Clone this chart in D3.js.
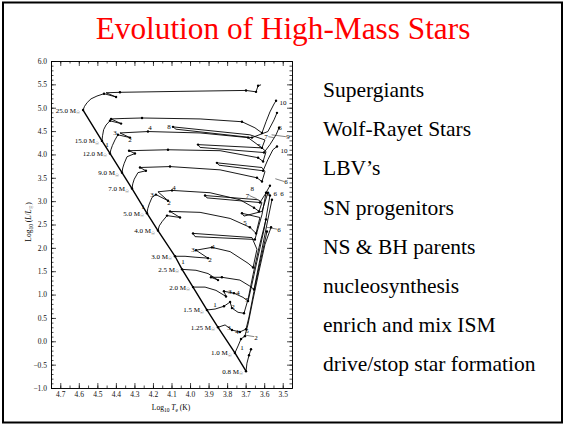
<!DOCTYPE html>
<html>
<head>
<meta charset="utf-8">
<script src="https://cdn.jsdelivr.net/npm/d3@7"></script>
<style>
  body { margin: 0; background: #fff; }
  svg { display: block; }
</style>
</head>
<body>
<svg id="slide" width="565" height="426"></svg>
<script>
// evolutionary tracks, [log Te, log L/Lsun]
const track25 = [[4.577,4.95],[4.569,5.03],[4.555,5.11],[4.534,5.19],[4.502,5.25],[4.464,5.30],[4.399,5.23],[4.453,5.32],[4.378,5.33],[4.054,5.35],[3.698,5.37],[3.644,5.34],[3.633,5.47],[3.617,5.49]];
const track15 = [[4.475,4.29],[4.472,4.40],[4.466,4.53],[4.453,4.63],[4.432,4.72],[4.372,4.66],[4.426,4.76],[4.356,4.77],[4.259,4.78],[3.946,4.76],[3.720,4.70],[3.650,4.57],[3.612,4.46],[3.590,4.70],[3.569,4.91],[3.547,5.08],[3.536,5.15]];
const track12 = [[4.432,4.02],[4.427,4.10],[4.419,4.19],[4.405,4.31],[4.389,4.42],[4.324,4.36],[4.378,4.46],[4.227,4.49],[3.946,4.46],[3.687,4.36],[3.612,4.14],[3.596,4.31],[3.677,4.42],[4.092,4.59],[4.076,4.54],[3.666,4.36],[3.580,4.49],[3.547,4.74],[3.531,4.89]];
const track9 = [[4.367,3.61],[4.363,3.71],[4.355,3.81],[4.340,3.95],[4.297,4.02],[4.329,4.08],[4.119,4.10],[3.838,4.08],[3.633,3.93],[3.606,3.85],[3.590,4.06],[3.612,4.14],[3.957,4.21],[3.946,4.15],[3.601,4.04],[3.569,4.21],[3.536,4.42],[3.520,4.57]];
const track7 = [[4.313,3.27],[4.309,3.37],[4.301,3.47],[4.281,3.61],[4.238,3.65],[4.270,3.72],[4.108,3.74],[3.838,3.67],[3.639,3.50],[3.612,3.42],[3.596,3.63],[3.612,3.72],[3.855,3.82],[3.844,3.77],[3.606,3.65],[3.580,3.89],[3.553,4.10],[3.531,4.17]];
const track5 = [[4.232,2.74],[4.228,2.84],[4.220,2.94],[4.205,3.08],[4.184,3.14],[4.119,3.01],[4.173,3.20],[4.097,3.23],[3.892,3.18],[3.731,3.03],[3.655,2.86],[3.628,2.78],[3.612,2.97],[3.633,3.03],[3.919,3.12],[3.909,3.07],[3.623,2.97],[3.596,3.14],[3.569,3.33]];
const track4 = [[4.173,2.37],[4.166,2.47],[4.151,2.56],[4.124,2.69],[4.054,2.65],[4.108,2.78],[3.946,2.76],[3.784,2.63],[3.677,2.44],[3.644,2.31],[3.623,2.65],[3.720,2.74],[3.709,2.68],[3.612,2.78],[3.580,3.18]];
const track3 = [[4.081,1.82],[4.027,1.82],[3.973,1.80],[3.903,1.78],[3.968,1.95],[3.882,2.01],[3.784,1.92],[3.687,1.67],[3.660,1.58],[3.639,1.97],[3.666,2.22],[3.984,2.31],[3.973,2.24],[3.650,2.18],[3.612,2.71],[3.590,3.18]];
const track2_5 = [[4.043,1.54],[3.968,1.52],[3.903,1.45],[3.849,1.31],[3.887,1.37],[3.828,1.37],[3.731,1.31],[3.677,1.18],[3.655,1.11],[3.639,1.43],[3.612,1.97],[3.580,2.61],[3.558,3.03]];
const track2 = [[3.984,1.16],[3.919,1.16],[3.860,1.09],[3.806,0.96],[3.817,1.07],[3.763,1.03],[3.714,0.94],[3.687,0.86],[3.666,1.22],[3.639,1.71],[3.601,2.39],[3.569,3.12]];
const track1_5 = [[3.909,0.67],[3.865,0.69],[3.817,0.75],[3.784,0.84],[3.774,0.71],[3.741,0.62],[3.709,0.60],[3.687,0.90],[3.660,1.43],[3.628,2.01],[3.590,2.61]];
const track1_25 = [[3.849,0.30],[3.811,0.35],[3.774,0.24],[3.731,0.20],[3.698,0.26],[3.682,0.52],[3.655,1.07],[3.623,1.67],[3.585,2.35]];
const track1 = [[3.758,-0.25],[3.741,-0.10],[3.725,0.05],[3.704,0.11],[3.687,0.37],[3.660,0.90],[3.628,1.50],[3.596,2.07],[3.563,2.44]];
const track0_8 = [[3.698,-0.64],[3.693,-0.47],[3.682,-0.30],[3.671,-0.17]];

const masses = ["25.0","15.0","12.0","9.0","7.0","5.0","4.0","3.0","2.5","2.0","1.5","1.25","1.0","0.8"];
const trackList = [track25, track15, track12, track9, track7, track5, track4, track3, track2_5, track2, track1_5, track1_25, track1, track0_8];
// which points of each track carry a stage dot
const dotIndex = [[0,5,6,8,10,11,12],[0,4,5,6,8,10,12,16],[0,4,5,7,9,10,13,15,18],[0,4,5,6,8,9,12,14,17],[0,4,5,6,8,9,12,14,17],[0,4,5,7,10,11,14,16,18],[0,3,4,5,8,9,11,14],[0,3,4,5,8,11,13,15],[0,3,4,5,8,12],[0,3,4,5,7,11],[0,2,3,4,6,10],[0,2,3,4,8],[0,2,3,8],[0,2,3]];

// stage numbers
const stageLabels = [
  ["1",4.448,4.21],["3",4.405,4.46],["2",4.324,4.31],["4",4.216,4.57],["8",4.114,4.59],
  ["3",4.205,3.14],["4",4.087,3.29],["2",4.114,2.97],["1",4.254,2.88],
  ["3",3.984,1.97],["4",3.876,2.03],["2",3.892,1.75],["1",4.038,1.71],
  ["3",3.784,1.07],["4",3.741,1.05],["1",3.865,0.79],["2",3.768,0.75],["5",3.693,0.90],
  ["3",3.790,0.30],["4",3.747,0.20],["5",3.693,0.22],["1",3.720,-0.13],["2",3.644,0.09],
  ["10",3.499,5.10],["6",3.515,4.57],["7",3.590,4.38],["9",3.472,4.38],["5",3.628,4.19],
  ["10",3.493,4.08],["6",3.482,3.42],["8",3.664,3.26],["7",3.690,3.12],["9",3.580,3.16],
  ["6",3.540,3.17],["6",3.504,3.17],["6",3.520,2.39],["5",3.704,2.54]
];
// leader lines from a stage number to its track, [t1, L1, t2, L2]
const leaders = [
  [3.483,4.38,3.560,4.42],[3.578,4.38,3.548,4.36],[3.492,3.42,3.540,3.48],
  [3.531,2.40,3.585,2.44],[3.655,0.10,3.700,0.13],[3.680,3.12,3.640,3.05]
];

const xTicks = [4.7,4.6,4.5,4.4,4.3,4.2,4.1,4.0,3.9,3.8,3.7,3.6,3.5];
const yTicks = [-1.0,-0.5,0.0,0.5,1.0,1.5,2.0,2.5,3.0,3.5,4.0,4.5,5.0,5.5,6.0];

const bullets = ["Supergiants","Wolf-Rayet Stars","LBV\u2019s","SN progenitors","NS & BH parents","nucleosynthesis","enrich and mix ISM","drive/stop star formation"];

const svg = d3.select("#slide");
const serif = "'Liberation Serif', 'Times New Roman', serif";

svg.append("rect")
    .attr("x", 3).attr("y", 2.5)
    .attr("width", 559).attr("height", 420)
    .attr("fill", "none").attr("stroke", "#000").attr("stroke-width", 2);

svg.append("text")
    .attr("x", 283).attr("y", 39)
    .attr("text-anchor", "middle")
    .attr("font-family", serif)
    .attr("font-size", 31.3)
    .attr("fill", "#ff0000")
    .text("Evolution of High-Mass Stars");

svg.append("g").selectAll("text")
    .data(bullets)
    .join("text")
    .attr("x", 323)
    .attr("y", (d, i) => 97 + i * 39.2)
    .attr("font-family", serif)
    .attr("font-size", 21.5)
    .attr("fill", "#000")
    .text(d => d);

// HR diagram
const x = d3.scaleLinear().domain([4.75, 3.45]).range([51, 292]);
const y = d3.scaleLinear().domain([-1, 6]).range([388, 61]);

const chart = svg.append("g");

const minorX = d3.range(4.75, 3.449, -0.05).map(v => +v.toFixed(2));
const minorY = d3.range(-1, 6.001, 0.1).map(v => +v.toFixed(1));

function styleAxis(g) {
    g.selectAll("path.domain").attr("stroke", "#000").attr("stroke-width", 0.8);
    g.selectAll(".tick line").attr("stroke", "#000").attr("stroke-width", 0.7);
    g.selectAll("text").attr("font-family", serif).attr("font-size", 7.5).attr("fill", "#111");
}

chart.append("g").attr("transform", "translate(0,388)")
    .call(d3.axisBottom(x).tickValues(xTicks).tickSize(-5).tickSizeOuter(0).tickPadding(4).tickFormat(d3.format(".1f")))
    .call(styleAxis);
chart.append("g").attr("transform", "translate(0,388)")
    .call(d3.axisBottom(x).tickValues(minorX).tickSize(-2.5).tickSizeOuter(0).tickFormat(""))
    .call(styleAxis);
chart.append("g").attr("transform", "translate(0,61)")
    .call(d3.axisTop(x).tickValues(xTicks).tickSize(-5).tickSizeOuter(0).tickFormat(""))
    .call(styleAxis);
chart.append("g").attr("transform", "translate(0,61)")
    .call(d3.axisTop(x).tickValues(minorX).tickSize(-2.5).tickSizeOuter(0).tickFormat(""))
    .call(styleAxis);
chart.append("g").attr("transform", "translate(51,0)")
    .call(d3.axisLeft(y).tickValues(yTicks).tickSize(-5).tickSizeOuter(0).tickPadding(4).tickFormat(d3.format(".1f")))
    .call(styleAxis);
chart.append("g").attr("transform", "translate(51,0)")
    .call(d3.axisLeft(y).tickValues(minorY).tickSize(-2.5).tickSizeOuter(0).tickFormat(""))
    .call(styleAxis);
chart.append("g").attr("transform", "translate(292,0)")
    .call(d3.axisRight(y).tickValues(yTicks).tickSize(-5).tickSizeOuter(0).tickFormat(""))
    .call(styleAxis);
chart.append("g").attr("transform", "translate(292,0)")
    .call(d3.axisRight(y).tickValues(minorY).tickSize(-2.5).tickSizeOuter(0).tickFormat(""))
    .call(styleAxis);

// axis titles
const xt = chart.append("text")
    .attr("x", 171).attr("y", 410)
    .attr("text-anchor", "middle")
    .attr("font-family", serif).attr("font-size", 7.5);
xt.append("tspan").text("Log");
xt.append("tspan").attr("font-size", 5.5).attr("dy", 2).text("10");
xt.append("tspan").attr("dy", -2).text(" ");
xt.append("tspan").attr("font-style", "italic").text("T");
xt.append("tspan").attr("font-size", 5.5).attr("dy", 2).text("e");
xt.append("tspan").attr("dy", -2).text(" (K)");

const yt = chart.append("text")
    .attr("transform", "translate(31,222) rotate(-90)")
    .attr("text-anchor", "middle")
    .attr("font-family", serif).attr("font-size", 7.5);
yt.append("tspan").text("Log");
yt.append("tspan").attr("font-size", 5.5).attr("dy", 2).text("10");
yt.append("tspan").attr("dy", -2).text(" (");
yt.append("tspan").attr("font-style", "italic").text("L");
yt.append("tspan").text("/");
yt.append("tspan").attr("font-style", "italic").text("L");
yt.append("tspan").attr("font-size", 5).attr("dy", 2).attr("font-family", "DejaVu Sans").text("\u2609");
yt.append("tspan").attr("dy", -2).text(")");

const line = d3.line().x(d => x(d[0])).y(d => y(d[1]));

// ZAMS line through the first point of every track
chart.append("path")
    .attr("d", line(trackList.map(t => t[0])))
    .attr("fill", "none").attr("stroke", "#000").attr("stroke-width", 1.4);

chart.append("g").selectAll("path")
    .data(trackList)
    .join("path")
    .attr("d", d => line(d))
    .attr("fill", "none")
    .attr("stroke", "#000")
    .attr("stroke-width", 0.9)
    .attr("stroke-linejoin", "round");

const dots = [];
trackList.forEach((t, i) => dotIndex[i].forEach(k => { if (t[k]) dots.push(t[k]); }));
chart.append("g").selectAll("circle")
    .data(dots)
    .join("circle")
    .attr("cx", d => x(d[0])).attr("cy", d => y(d[1]))
    .attr("r", 1.2).attr("fill", "#000");

// mass labels
const ml = chart.append("g").selectAll("text")
    .data(trackList.map((t, i) => ({ m: masses[i], p: t[0] })))
    .join("text")
    .attr("x", d => x(d.p[0]) - 3)
    .attr("y", d => y(d.p[1]) + 2.5)
    .attr("text-anchor", "end")
    .attr("font-family", serif)
    .attr("font-size", 7);
ml.append("tspan").text(d => d.m + " M");
ml.append("tspan").attr("font-size", 4.5).attr("dy", 1.5).attr("font-family", "DejaVu Sans").text("\u2609");

chart.append("g").selectAll("line")
    .data(leaders)
    .join("line")
    .attr("x1", d => x(d[0])).attr("y1", d => y(d[1]))
    .attr("x2", d => x(d[2])).attr("y2", d => y(d[3]))
    .attr("stroke", "#000").attr("stroke-width", 0.5);

chart.append("g").selectAll("text")
    .data(stageLabels)
    .join("text")
    .attr("x", d => x(d[1]))
    .attr("y", d => y(d[2]))
    .attr("dy", "0.35em")
    .attr("text-anchor", "middle")
    .attr("font-family", serif)
    .attr("font-size", 7)
    .text(d => d[0]);
</script>
</body>
</html>
